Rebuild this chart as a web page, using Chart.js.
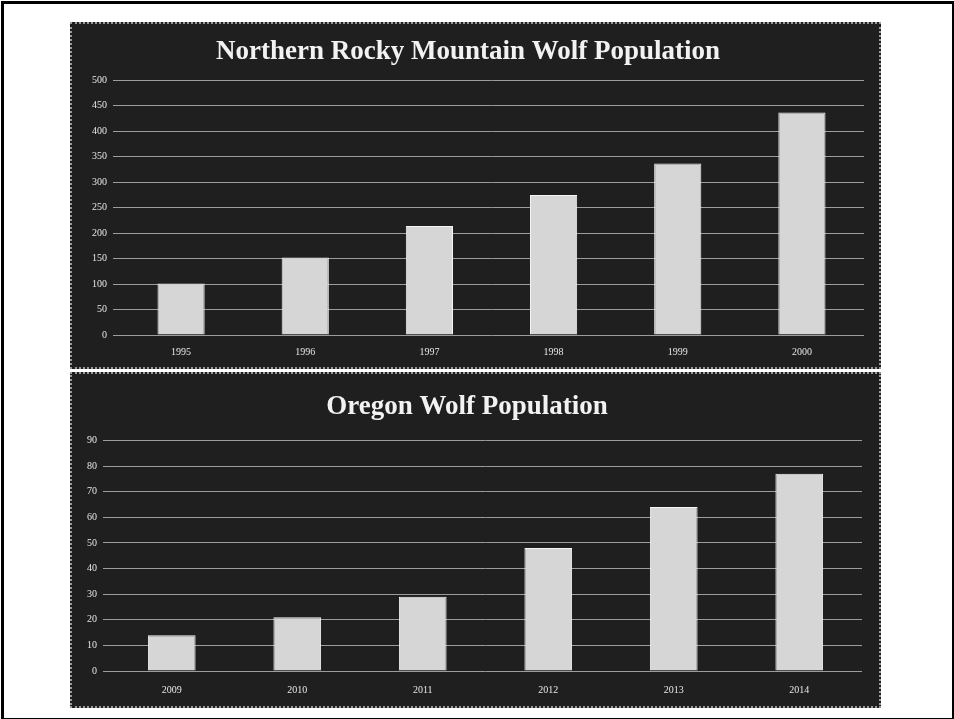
<!DOCTYPE html>
<html>
<head>
<meta charset="utf-8">
<script src="https://cdn.jsdelivr.net/npm/chart.js@4/dist/chart.umd.min.js"></script>
<style>
  body { margin: 0; background: #fff; }
  #frame {
    position: absolute; left: 1px; top: 1px; width: 948px; height: 714px;
    border: 3px solid #000;
  }
  .box {
    position: absolute; left: 70px; width: 807px;
    background: #1f1f1f;
    border: 2px dotted #9a9a9a;
  }
  #boxTop { top: 22px; height: 343px; }
  #boxBottom { top: 372px; height: 332px; }
</style>
</head>
<body>
<div id="frame"></div>
<div class="box" id="boxTop"><canvas id="nrmChart"></canvas></div>
<div class="box" id="boxBottom"><canvas id="oregonChart"></canvas></div>
<script>
///////////////////////////////////////
//////////////// Data /////////////////
///////////////////////////////////////

const nrmYears = ['1995', '1996', '1997', '1998', '1999', '2000'];
const nrmWolves = [101, 152, 214, 275, 337, 437];
const nrmTicks = [0, 50, 100, 150, 200, 250, 300, 350, 400, 450, 500];

const oregonYears = ['2009', '2010', '2011', '2012', '2013', '2014'];
const oregonWolves = [14, 21, 29, 48, 64, 77];
const oregonTicks = [0, 10, 20, 30, 40, 50, 60, 70, 80, 90];

///////////////////////////////////////
/////////////// Helpers ///////////////
///////////////////////////////////////

function wolfChart(id, title, years, values, ticks, opts) {
    return new Chart(document.getElementById(id), {
        type: 'bar',
        data: {
            labels: years,
            datasets: [
                {
                    data: values,
                    backgroundColor: '#d6d6d6',
                    borderColor: '#f4f4f4',
                    borderWidth: 1,
                    categoryPercentage: 1,
                    barPercentage: 0.38,
                }
            ]
        },
        options: {
            responsive: true,
            maintainAspectRatio: false,
            animation: false,
            layout: {
                padding: opts.padding
            },
            scales: {
                x: {
                    grid: {
                        display: false,
                    },
                    border: {
                        display: false,
                    },
                    ticks: {
                        color: '#e6e6e6',
                        padding: opts.labelPadding,
                        font: { family: 'Liberation Serif', size: 10 },
                    },
                },
                y: {
                    min: ticks[0],
                    max: ticks[ticks.length - 1],
                    afterBuildTicks: (axis) => {
                        axis.ticks = ticks.map(v => ({ value: v }));
                    },
                    afterFit: (axis) => {
                        axis.width = opts.axisWidth;
                    },
                    grid: {
                        color: '#9c9c9c',
                        tickLength: 6,
                        lineWidth: 1,
                    },
                    border: {
                        display: false,
                    },
                    ticks: {
                        color: '#e6e6e6',
                        padding: 6,
                        font: { family: 'Liberation Serif', size: 10 },
                    },
                },
            },
            plugins: {
                legend: {
                    display: false,
                },
                tooltip: {
                    enabled: false,
                },
                title: {
                    display: true,
                    text: title,
                    color: '#f2f2f2',
                    font: { family: 'Liberation Serif', size: 27, weight: 'bold' },
                    padding: opts.titlePadding,
                },
            },
        }
    });
}

///////////////////////////////////////
/////////////// Charts ////////////////
///////////////////////////////////////

wolfChart('nrmChart', 'Northern Rocky Mountain Wolf Population',
    nrmYears, nrmWolves, nrmTicks,
    { padding: { left: 0, right: 15, top: 0, bottom: 6 }, axisWidth: 47, labelPadding: 3,
      titlePadding: { top: 12, bottom: 12 } });

wolfChart('oregonChart', 'Oregon Wolf Population',
    oregonYears, oregonWolves, oregonTicks,
    { padding: { left: 0, right: 17, top: 0, bottom: 5 }, axisWidth: 37, labelPadding: 5,
      titlePadding: { top: 17, bottom: 17 } });
</script>
</body>
</html>
